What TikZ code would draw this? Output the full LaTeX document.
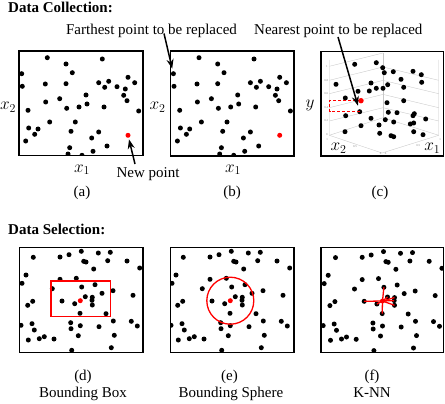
\documentclass[tikz,border=0pt]{standalone}
\usepackage{fontspec}
\setmainfont{Liberation Serif}
\usetikzlibrary{arrows.meta}
\begin{document}
\begin{tikzpicture}[x=1pt,y=-1pt,
  dot/.style={circle,fill=black,inner sep=0pt,minimum size=5pt},
  reddot/.style={circle,fill=red,inner sep=0pt,minimum size=5pt},
  panel/.style={draw=black,line width=1.1pt},
  lbl/.style={font=\fontsize{15}{17}\selectfont,anchor=base,inner sep=0pt},
  hdr/.style={font=\fontsize{15}{17}\selectfont\bfseries,anchor=base west,inner sep=0pt},
  axlbl/.style={font=\fontsize{17}{19}\selectfont,anchor=base,inner sep=0pt},
  tick/.style={font=\fontsize{3}{3}\selectfont,text=black!45,inner sep=0pt},
  grid3d/.style={draw=black!22,line width=0.35pt},
  pointer/.style={-{Stealth[length=9.5pt,width=7pt]},line width=1.5pt},
  sel/.style={draw=red,line width=1.3pt},
  proj/.style={draw=red,line width=0.9pt,dash pattern=on 3pt off 2pt}]
\useasboundingbox[fill=white] (0,0) rectangle (445,404);

\def\setA{28.3/6.7, 83.3/8, 47/13, 2.7/22.7, 53.3/21.7, 3.3/35.3, 26.3/33, 47/32.7, 79.7/31.7, 89.7/30.3, 85.7/36.3, 98/35.7, 109/26.3, 115.7/31.7, 106.3/38, 104.7/44.3, 108/49.7, 40.7/47.7, 67/44, 26.7/51, 68/53, 47.7/57.3, 60/56, 85/56, 119.7/60, 9/59.3, 30.7/71, 56.3/71, 9.7/77, 19/78, 15.7/83.3, 52/80.3, 79.7/81, 72.7/87, 6.7/90, 50.7/96.7, 88/95, 74/100.3, 49/103, 63/104.3}
\def\setD{14/9.6, 40.7/9.3, 49.7/7, 62/3.6, 79/5.3, 91/4.6, 64.4/13.6, 66.7/14.3, 88.4/13, 107.7/13.3, 120.4/20.3, 74.4/21.3, 6.7/27.3, 2.7/35.6, 40.7/31.6, 57/30.6, 33/41, 62.4/39.3, 75.7/37, 93.7/43, 82.7/45.6, 42.7/53.3, 55.4/56, 66/49, 73/49.6, 72.7/52.6, 73/57.3, 60.7/65.6, 86.7/66, 113.7/47.6, 13.4/53.6, 8.4/57.6, 1.7/77.6, 12.7/76, 15/82.3, 51.4/75, 51.7/81, 61/78, 79.7/79, 94/73.3, 112/73.6, 118/78.3, 59/88, 95/87.6, 9/92.3, 20/91, 25/89, 34.7/91.3, 52.4/102.6, 92/100}
\def\setC{354.7/64.3, 376.3/62.7, 382.7/67.7, 384.3/72.7, 393.3/71.7, 413/71.3, 421.3/74.7, 421.7/82.3, 336/84.3, 371/83, 401/79.3, 383/88.3, 387.7/84.7, 376.3/88.3, 369.3/91, 358/91.3, 403.7/87.3, 345.3/98, 387/102.7, 403.7/100.7, 359.7/111.7, 345.7/115.7, 388.3/112.3, 397/112.7, 414.3/113.7, 413/115.7, 425.7/119, 371/118.3, 385.3/119.7, 393.7/122, 361/125.7, 379/125, 410.3/124, 413.7/123, 345/131.7, 379.7/133.3, 391/135.7, 393.7/136.7, 413.7/131.7, 423/134.7}

% ---------- headings ----------
\node[hdr] (hcol) at (8,12.7) {Data Collection:};
\node[hdr] (hsel) at (8,234.5) {Data Selection:};

% ---------- panel (a) ----------
\begin{scope}[shift={(19,51)}]
  \clip (0,0) rectangle (124,104.5);
  \foreach \px/\py [count=\i] in \setA { \node[dot] (a\i) at (\px,\py) {}; }
  \node[reddot] (ar) at (109,84.3) {};
\end{scope}
\draw[panel] (19,51) rectangle (143,155.5);
\node[axlbl] (ax1) at (82,172) {$x_1$};
\node[axlbl] (ax2) at (8,110) {$x_2$};
\node[lbl] (newp) at (148,177) {New point};
\node[lbl] (capa) at (82,196) {(a)};
\coordinate (npT) at (135,164);
\draw[pointer,shorten >=1.5pt] (npT) -- (ar);

% ---------- panel (b) ----------
\begin{scope}[shift={(170.7,51)}]
  \clip (0,0) rectangle (123.3,105);
  \foreach \px/\py [count=\i] in \setA { \node[dot] (b\i) at (\px,\py) {}; }
  \node[reddot] (br) at (109,84.3) {};
\end{scope}
\draw[panel] (170.7,51) rectangle (294,156);
\node[axlbl] (bx1) at (233,172) {$x_1$};
\node[axlbl] (bx2) at (157.5,110) {$x_2$};
\node[lbl] (capb) at (232,196) {(b)};
\node[lbl] (far) at (151.5,34.7) {Farthest point to be replaced};
\coordinate (fT) at (164,33.5);
\draw[pointer,shorten >=2.5pt] (fT) -- (b4);

% ---------- panel (c) ----------
\begin{scope}
  \clip (321,51.7) rectangle (443.5,156);
  \draw[grid3d] (329.3,60) -- (329.3,135.3) -- (382,153) -- (438.7,135.3) -- (438.7,60);
  \draw[grid3d] (329.3,135.3) -- (383,117.7) -- (438.7,135.3);
  \draw[grid3d] (383,117.7) -- (383,53);
  \draw[grid3d] (329.3,66.3) -- (383,53);
  \foreach \ty in {80.3,93.7,107.7,121} { \draw[grid3d] (329.3,\ty) -- (383,\ty-13.3) -- (438.7,\ty); }
  \node[tick] (t1) at (326.8,66.3) {1};
  \node[tick] (t2) at (326.3,80.3) {0.8};
  \node[tick] (t3) at (326.3,93.7) {0.6};
  \node[tick] (t4) at (326.3,107.7) {0.4};
  \node[tick] (t5) at (326.3,121) {0.2};
  \node[tick] (t6) at (326.8,134.7) {0};
  \node[tick] (t7) at (355,147) {0.5};
  \node[tick] (t8) at (380.5,154) {0};
  \node[tick] (t9) at (385.5,154) {0};
  \node[tick] (t10) at (418.3,146) {0.5};
  \node[tick] (t11) at (327,139.5) {1};
  \node[tick] (t12) at (440,139.5) {1};
  \foreach \px/\py [count=\i] in \setC { \node[dot] (c\i) at (\px,\py) {}; }
  \node[reddot,minimum size=5.4pt] (cr) at (361,100.7) {};
  \coordinate (cq1) at (329.5,100.7);
  \coordinate (cq2) at (329.5,111.7);
  \draw[proj] (cr.center) -- (cq1) -- (cq2) -- (c21.center);
\end{scope}
\draw[panel] (321,51.7) rectangle (443.5,156);
\node[axlbl] (cy) at (310,108) {$y$};
\node[axlbl] (cx2) at (338.5,150.5) {$x_2$};
\node[axlbl] (cx1) at (432.3,150.5) {$x_1$};
\node[lbl] (capc) at (380,196) {(c)};
\node[lbl] (near) at (338.3,35) {Nearest point to be replaced};
\coordinate (nT) at (338,37);
\draw[pointer,shorten >=3.5pt] (nT) -- (c21);

% ---------- panel (d) ----------
\begin{scope}[shift={(19.3,247.7)}]
  \clip (0,0) rectangle (123.7,104.6);
  \foreach \px/\py [count=\i] in \setD { \node[dot] (d\i) at (\px,\py) {}; }
  \node[reddot] (dr) at (61,53) {};
  \draw[sel] (31.7,33.3) rectangle (91.2,69);
\end{scope}
\draw[panel] (19.3,247.7) rectangle (143,352.3);
\node[lbl] (capd) at (83,380.8) {(d)};
\node[lbl] (named) at (83,397) {Bounding Box};

% ---------- panel (e) ----------
\begin{scope}
  \clip (170.7,247.7) rectangle (294,352.3);
  \begin{scope}[shift={(169.3,247.7)}]
    \foreach \px/\py [count=\i] in \setD { \node[dot] (e\i) at (\px,\py) {}; }
    \node[reddot] (er) at (61,53) {};
  \end{scope}
  \draw[sel] (er.center) circle[radius=23.5];
\end{scope}
\draw[panel] (170.7,247.7) rectangle (294,352.3);
\node[lbl] (cape) at (229.5,380.8) {(e)};
\node[lbl] (namee) at (231,397) {Bounding Sphere};

% ---------- panel (f) ----------
\begin{scope}
  \clip (321,247.7) rectangle (443.3,352.3);
  \begin{scope}[shift={(321.5,248)}]
    \foreach \px/\py [count=\i] in \setD { \node[dot] (f\i) at (\px,\py) {}; }
    \node[reddot] (fr) at (61,53) {};
  \end{scope}
  \foreach \k in {18,22,23,24,25,26,27,28} { \draw[sel] (fr.center) -- (f\k.center); }
\end{scope}
\draw[panel] (321,247.7) rectangle (443.3,352.3);
\node[lbl] (capf) at (372,380.8) {(f)};
\node[lbl] (namef) at (372,397) {K-NN};
\end{tikzpicture}
\end{document}
